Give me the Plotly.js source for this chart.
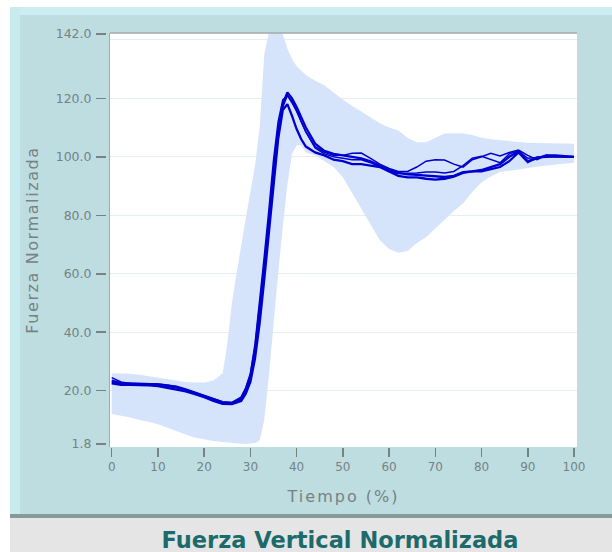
<!DOCTYPE html>
<html>
<head>
<meta charset="utf-8">
<script src="https://cdn.plot.ly/plotly-3.0.1.min.js"></script>
<style>
  html, body { margin: 0; padding: 0; background: #ffffff; }
  #chart { width: 612px; height: 552px; }
  /* the axis captions are set with wide tracking */
  #chart .xtitle { letter-spacing: 2px; }
  #chart .y2title { letter-spacing: 1.6px; }
</style>
</head>
<body>
<div id="chart"></div>
<script>
// Tiempo (%) sample points of the individual trials
const tiempo = [0, 2, 4, 6, 8, 10, 12, 14, 16, 18, 20, 22, 24, 26, 28,
  29, 30, 31, 32, 33, 34, 35, 36, 37, 38, 39, 40, 41, 42,
  44, 46, 48, 50, 52, 54, 56, 58, 60, 62, 64, 66, 68, 70, 72, 74, 76, 78, 80,
  82, 84, 86, 88, 90, 92, 94, 96, 98, 100];

// Normalized vertical force, one array per trial
const ensayo1 = [23.5, 22.5, 22.5, 22.4, 22.3, 22.2, 21.8, 21.2, 20.3, 19.2, 18.2, 17.0, 16.0, 15.8, 17.5,
  20.5, 25, 34, 47, 62, 78, 95, 109, 118, 122, 120, 117, 113.5, 110,
  104.5, 102, 101, 100.5, 100, 99.5, 98.5, 97, 95.5, 94.5, 94, 93.8, 93.5, 93.2, 93.1, 93.5, 94.8, 95, 95.5,
  96.5, 97.5, 100, 101.8, 98.5, 99.5, 100.5, 100.5, 100.3, 100];
const ensayo2 = [22.5, 22, 22, 22, 21.8, 21.6, 21, 20.5, 19.8, 18.8, 17.8, 16.5, 15.5, 15.4, 16.5,
  19, 23, 31, 43, 58, 74, 91, 106, 116, 118, 114, 109.5, 106, 103.5,
  101.5, 100.5, 99, 98.5, 97.5, 97.5, 97, 96.5, 95, 93.5, 93, 93, 92.5, 92.2, 92.5, 93.2, 94.5, 95, 95,
  95.8, 96.5, 98.5, 101.5, 98.2, 99.8, 100, 100.2, 100, 100];
const ensayo3 = [24.5, 23, 22.5, 22.3, 22.3, 22.3, 22, 21.5, 20.6, 19.5, 18.5, 17.2, 16.2, 16, 17.8,
  21, 26, 36, 50, 66, 82, 99, 112, 119.5, 121, 118.5, 115.5, 112, 108.5,
  103.5, 101.5, 100.5, 100.5, 101.2, 101.3, 99.5, 97.5, 96, 95, 95, 96.5, 98.5, 99, 98.9, 97.5, 96.5, 99, 100,
  101.2, 100.3, 101.5, 102.3, 100.5, 99, 100.5, 100.2, 100.2, 100];
const ensayo4 = [22.8, 22.3, 22.2, 22.2, 22, 21.9, 21.5, 21, 20, 19, 18, 16.8, 15.8, 15.6, 17,
  20, 24, 33, 45, 60, 76, 93, 107, 117, 121, 119, 116, 112, 108.5,
  103, 101, 100, 99.5, 99, 99, 98, 96.5, 95, 94.3, 94.3, 94.5, 94.8, 94.8, 94.5, 95, 97, 99.5, 100.2,
  99, 98, 101, 102, 99.5, 99.8, 100, 100, 100, 100];

// Normal band (reference population)
const bandaTiempo = [0, 2, 4, 6, 8, 10, 12, 14, 16, 18, 20, 22, 24, 25, 26, 27, 28, 29, 30,
  31, 32, 33, 34, 35, 36, 37, 38, 39, 40, 41, 42, 44, 46, 48, 50, 52, 54, 56, 58, 60,
  62, 64, 66, 68, 70, 72, 74, 76, 78, 80, 82, 84, 86, 88, 90, 92, 94, 96, 98, 100];
const bandaSuperior = [26, 26, 25.8, 25.5, 25, 24.5, 24, 23.5, 23, 22.8, 22.8, 23.5, 26, 36, 50, 60, 70, 79, 88,
  97, 110, 135, 142.5, 145, 145, 142, 137, 133.5, 131, 129.5, 128, 126, 124.5, 122, 119.5, 117.5, 115.5, 113.5, 111.5, 110,
  109, 106.5, 105, 105, 106.5, 108, 108.1, 108, 107.5, 106.5, 106, 105.7, 105.5, 105, 104.8, 104.7, 104.7, 104.7, 104.7, 104.5];
const bandaInferior = [12, 11.5, 10.8, 10, 9.4, 8.5, 7.3, 6, 5, 4, 3.3, 2.8, 2.5, 2.3, 2.1, 2, 1.9, 1.8, 1.8,
  2, 3, 10, 25, 43, 60, 76, 90.5, 101, 104, 104, 101.5, 100.5, 98.5, 96.5, 93, 87.5, 82, 76.5, 71.5, 68.5,
  67.2, 67.8, 70.5, 72.5, 75.5, 78.8, 81.5, 84, 88, 91.3, 93.3, 94.8, 95.3, 95.8, 96.2, 96.6, 97, 97.4, 97.7, 98];

// Axis ticks
const xTicks = [0, 10, 20, 30, 40, 50, 60, 70, 80, 90, 100];
const yTicks = [1.8, 20, 40, 60, 80, 100, 120, 142];
const yGrid = [20, 40, 60, 80, 100, 120, 140];

// Page geometry (pixels)
const W = 612, H = 552, ML = 106, MR = 35, MT = 33, MB = 105;
const PW = W - ML - MR, PH = H - MT - MB;
const px = x => (x - ML) / PW;
const py = y => (H - MB - y) / PH;
const plotLeft = px(110);

const yRange = [0.75, 142.35];
const xRange = [-0.37, 100.65];
const lineBlue = 'rgb(0,0,205)';
const axisGray = '#788283';

const traces = [
  { x: bandaTiempo, y: bandaInferior, type: 'scatter', mode: 'lines',
    line: { width: 0, color: 'rgba(0,0,0,0)' }, hoverinfo: 'skip', showlegend: false },
  { x: bandaTiempo, y: bandaSuperior, type: 'scatter', mode: 'lines', fill: 'tonexty',
    fillcolor: 'rgb(214,228,251)', line: { width: 0, color: 'rgba(0,0,0,0)' },
    hoverinfo: 'skip', showlegend: false }
];
[ensayo1, ensayo2, ensayo3, ensayo4].forEach((serie, i) => {
  traces.push({ x: tiempo, y: serie, type: 'scatter', mode: 'lines', yaxis: 'y2',
    name: 'Ensayo ' + (i + 1), showlegend: false,
    line: { color: lineBlue, width: i < 2 ? 2.3 : 1.5 } });
});

const rect = (x0, x1, y0, y1, color) => ({
  type: 'rect', xref: 'paper', yref: 'paper', layer: 'below',
  x0: px(x0), x1: px(x1), y0: py(y1), y1: py(y0),
  fillcolor: color, line: { width: 0 }
});

const layout = {
  width: W, height: H,
  margin: { l: ML, r: MR, t: MT, b: MB, pad: 0 },
  paper_bgcolor: '#ffffff',
  plot_bgcolor: '#ffffff',
  showlegend: false,
  font: { family: 'DejaVu Sans, sans-serif', color: axisGray },
  title: {
    text: 'Fuerza Vertical Normalizada',
    font: { family: 'DejaVu Sans, sans-serif', size: 22.5, color: '#1d6a6b', weight: 'bold' },
    x: 340 / W, xref: 'container', xanchor: 'center',
    y: 1 - 540 / H, yref: 'container', yanchor: 'middle'
  },
  xaxis: {
    domain: [plotLeft, 1], range: xRange, tickvals: xTicks,
    ticks: 'outside', ticklen: 9, tickwidth: 1.5, tickcolor: axisGray,
    tickfont: { size: 12, color: axisGray },
    showgrid: false, zeroline: false, showline: false,
    title: { text: 'Tiempo (%)', font: { size: 16, color: axisGray }, standoff: 17 }
  },
  yaxis: {
    range: yRange, tickvals: yGrid, showticklabels: false, ticks: '',
    showgrid: true, gridcolor: '#e7eef1', gridwidth: 1.2,
    zeroline: false, showline: true, linecolor: '#a3aaab', linewidth: 1.5
  },
  yaxis2: {
    overlaying: 'y', anchor: 'free', position: 0, side: 'left',
    range: yRange, tickvals: yTicks, tickformat: '.1f',
    ticks: 'outside', ticklen: 10, tickwidth: 1.5, tickcolor: axisGray,
    tickfont: { size: 12.5, color: axisGray }, ticklabelstandoff: 2,
    showgrid: false, zeroline: false, showline: false,
    title: { text: 'Fuerza Normalizada', font: { size: 16, color: axisGray }, standoff: 12 }
  },
  shapes: [
    rect(10, 612, 7, 517, '#bddde1'),
    rect(10, 612, 7, 15, '#cbeef2'),
    rect(10, 20, 7, 517, '#c8ebef'),
    rect(10, 612, 514, 518, '#87989a'),
    rect(10, 612, 518, 552, '#e5e5e5'),
    { type: 'rect', xref: 'paper', yref: 'paper', layer: 'below',
      x0: plotLeft, x1: 1, y0: 0, y1: 1, fillcolor: '#ffffff', line: { width: 0 } },
    { type: 'line', xref: 'paper', yref: 'paper', layer: 'above',
      x0: plotLeft, x1: 1, y0: 1, y1: 1, line: { color: '#a3aaab', width: 1.5 } }
  ]
};

Plotly.newPlot('chart', traces, layout, { staticPlot: true, displayModeBar: false });
</script>
</body>
</html>
